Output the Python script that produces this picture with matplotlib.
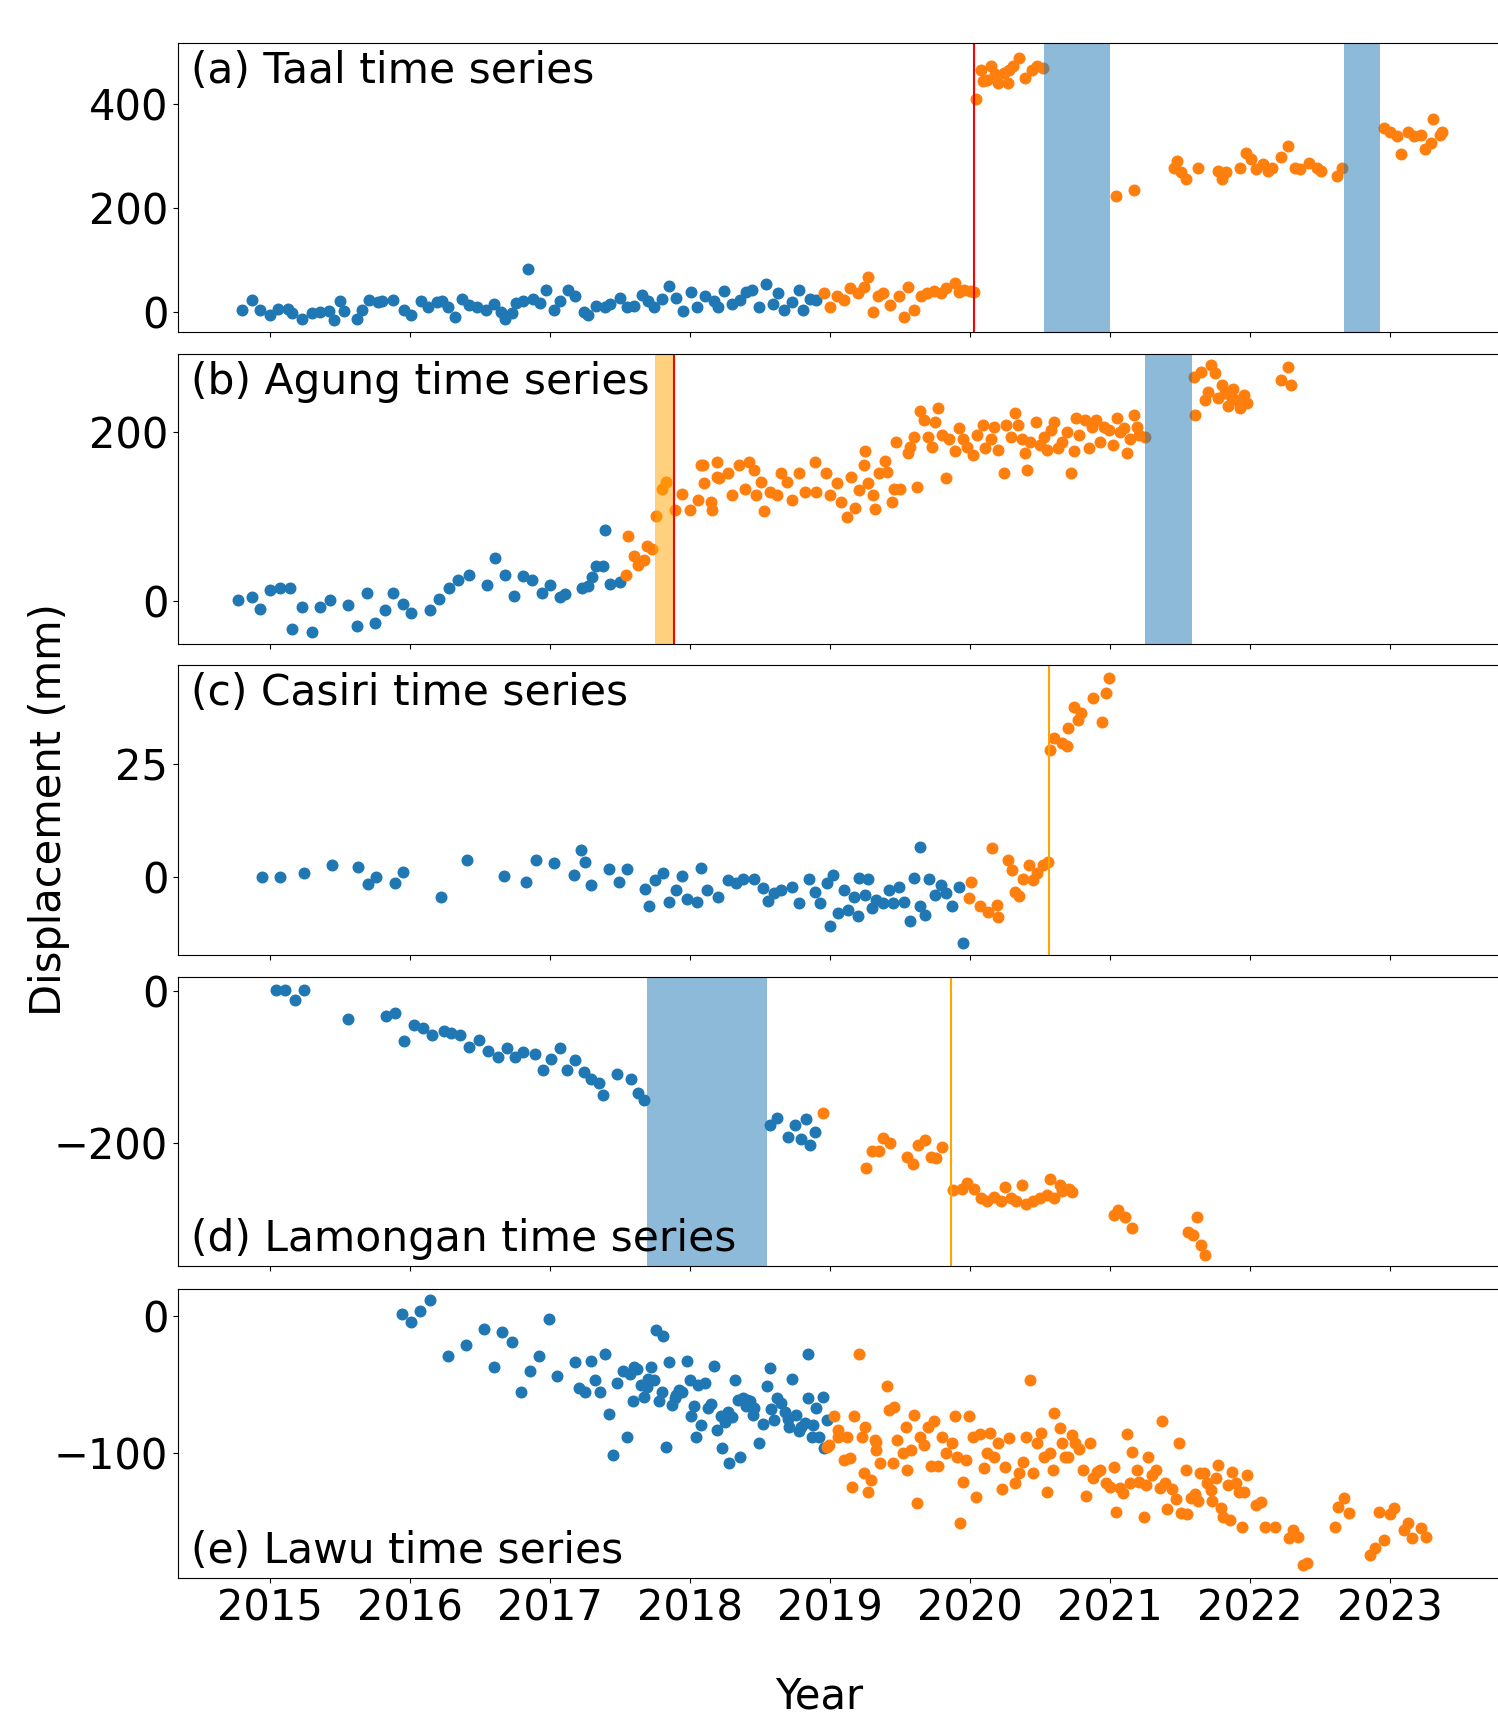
import matplotlib
matplotlib.use("Agg")
import matplotlib.pyplot as plt
import numpy as np

plt.rcParams['font.family'] = 'DejaVu Sans'
plt.rcParams['font.size'] = 30

# ---------------- data (decimal year, displacement mm) ----------------
# (a) Taal
taal_pre_t = [2014.80, 2014.87, 2014.93, 2015.00, 2015.06, 2015.13, 2015.16, 2015.23, 2015.30, 2015.36,
              2015.42, 2015.46, 2015.50, 2015.53, 2015.62, 2015.66, 2015.71, 2015.77, 2015.80, 2015.88,
              2015.96, 2016.01, 2016.08, 2016.13, 2016.19, 2016.23, 2016.27, 2016.32, 2016.37, 2016.42,
              2016.48, 2016.54, 2016.60, 2016.65, 2016.68, 2016.73, 2016.76, 2016.81, 2016.84, 2016.88,
              2016.93, 2016.97, 2017.03, 2017.07, 2017.13, 2017.18, 2017.24, 2017.27, 2017.33, 2017.39,
              2017.43, 2017.50, 2017.55, 2017.60, 2017.66, 2017.70, 2017.74, 2017.80, 2017.85, 2017.90,
              2017.95, 2018.01, 2018.05, 2018.11, 2018.17, 2018.20, 2018.24, 2018.30, 2018.36, 2018.40,
              2018.44, 2018.49, 2018.54, 2018.59, 2018.63, 2018.67, 2018.73, 2018.78, 2018.81, 2018.86,
              2018.90]
taal_pre_d = [4, 23, 5, -5, 7, 7, -1, -14, -2, 1,
              3, -16, 22, 2, -14, 4, 23, 20, 22, 24,
              4, -5, 22, 10, 20, 22, 10, -9, 26, 14,
              10, 4, 15, 1, -14, -2, 18, 22, 83, 26,
              17, 42, 4, 22, 42, 32, 1, -5, 12, 9,
              15, 28, 10, 12, 34, 22, 9, 26, 51, 28,
              3, 39, 10, 32, 22, 9, 41, 15, 23, 39,
              43, 9, 55, 15, 36, 4, 20, 42, 5, 26,
              23]
taal_post_t = [2018.96, 2019.00, 2019.05, 2019.10, 2019.14, 2019.20, 2019.24, 2019.27, 2019.31, 2019.34,
               2019.38, 2019.43, 2019.49, 2019.53, 2019.56, 2019.60, 2019.65, 2019.69, 2019.74, 2019.79,
               2019.83, 2019.89, 2019.92, 2019.96, 2020.00, 2020.03,
               2020.04, 2020.08, 2020.09, 2020.12, 2020.15, 2020.18, 2020.20, 2020.24, 2020.27, 2020.28,
               2020.31, 2020.35, 2020.39, 2020.44, 2020.48, 2020.52,
               2021.04, 2021.17, 2021.46, 2021.48, 2021.51, 2021.54, 2021.63, 2021.77, 2021.80, 2021.83,
               2021.93, 2021.97, 2022.01, 2022.04, 2022.09, 2022.13, 2022.16, 2022.22, 2022.27, 2022.32,
               2022.36, 2022.42, 2022.48, 2022.51, 2022.62, 2022.66,
               2022.96, 2023.00, 2023.05, 2023.08, 2023.13, 2023.17, 2023.22, 2023.25, 2023.29, 2023.31,
               2023.36, 2023.37]
taal_post_d = [37, 9, 32, 23, 47, 37, 48, 67, 1, 31,
               36, 14, 32, -10, 49, 4, 31, 37, 41, 36,
               47, 56, 39, 43, 41, 39,
               410, 467, 445, 448, 474, 458, 442, 461, 442, 467,
               474, 490, 451, 467, 474, 470,
               224, 235, 278, 291, 269, 256, 278, 272, 256, 270,
               278, 307, 294, 275, 285, 272, 278, 298, 320, 278,
               275, 288, 278, 272, 262, 278,
               355, 346, 339, 304, 346, 339, 342, 314, 326, 372,
               342, 347]

# (b) Agung
agung_pre_t = [2014.77, 2014.87, 2014.93, 2015.00, 2015.07, 2015.14, 2015.16, 2015.23, 2015.30, 2015.36,
               2015.43, 2015.56, 2015.62, 2015.69, 2015.75, 2015.82, 2015.88, 2015.95, 2016.01, 2016.14,
               2016.21, 2016.28, 2016.34, 2016.42, 2016.55, 2016.61, 2016.68, 2016.74, 2016.81, 2016.87,
               2016.94, 2017.00, 2017.07, 2017.11, 2017.23, 2017.27, 2017.30, 2017.33, 2017.38, 2017.39,
               2017.43, 2017.50]
agung_pre_d = [1, 5, -9, 13, 15, 16, -33, -7, -36, -7,
               1, -5, -29, 10, -26, -11, 10, -3, -14, -11,
               3, 16, 25, 31, 19, 51, 31, 6, 30, 25,
               10, 19, 5, 9, 16, 18, 28, 42, 42, 84,
               20, 23]
agung_post_t = [2017.54, 2017.56, 2017.60, 2017.63, 2017.67, 2017.69, 2017.73, 2017.76, 2017.80, 2017.83,
                2017.89, 2017.94, 2018.00, 2018.06, 2018.08, 2018.10, 2018.16, 2018.19,
                2018.09, 2018.15, 2018.19, 2018.21, 2018.27, 2018.30, 2018.35, 2018.39, 2018.42, 2018.46,
                2018.47, 2018.51, 2018.53, 2018.57, 2018.62, 2018.65, 2018.69, 2018.73, 2018.78, 2018.82,
                2018.89, 2018.90, 2018.97, 2019.00, 2019.05, 2019.08, 2019.12, 2019.15, 2019.18, 2019.21,
                2019.24, 2019.25, 2019.27, 2019.31, 2019.32, 2019.35, 2019.39, 2019.41, 2019.44, 2019.46,
                2019.50, 2019.47, 2019.56, 2019.57, 2019.60, 2019.62, 2019.64, 2019.67, 2019.70, 2019.73,
                2019.75, 2019.77, 2019.80, 2019.83, 2019.85, 2019.89, 2019.92, 2019.95, 2019.98, 2020.02,
                2020.05, 2020.09, 2020.11, 2020.15, 2020.17, 2020.20, 2020.24, 2020.26, 2020.29, 2020.32,
                2020.34, 2020.37, 2020.39, 2020.41, 2020.43, 2020.47, 2020.50, 2020.53, 2020.55, 2020.58,
                2020.60, 2020.63, 2020.66, 2020.69, 2020.72, 2020.74, 2020.76, 2020.78, 2020.82, 2020.85,
                2020.87, 2020.90, 2020.93, 2020.96, 2020.99, 2021.02, 2021.05, 2021.07, 2021.10, 2021.12,
                2021.14, 2021.17, 2021.19, 2021.21, 2021.25,
                2021.60, 2021.61, 2021.65, 2021.68, 2021.70, 2021.72, 2021.75, 2021.77, 2021.80, 2021.82,
                2021.84, 2021.87, 2021.88, 2021.91, 2021.93, 2021.96, 2021.98, 2022.22, 2022.27, 2022.29]
agung_post_d = [31, 77, 53, 43, 49, 65, 62, 100, 133, 141,
                108, 127, 108, 120, 161, 139, 108, 147,
                161, 117, 164, 146, 151, 125, 161, 133, 164, 155,
                125, 141, 106, 129, 125, 151, 141, 119, 151, 129,
                164, 129, 151, 125, 139, 117, 99, 147, 110, 131,
                161, 177, 139, 125, 109, 151, 165, 153, 117, 133,
                132, 188, 175, 182, 194, 135, 224, 214, 194, 182,
                212, 228, 196, 145, 192, 177, 204, 192, 182, 173,
                196, 208, 181, 192, 206, 179, 151, 208, 194, 222,
                208, 192, 175, 155, 188, 212, 184, 194, 179, 202,
                212, 181, 188, 200, 151, 177, 216, 196, 214, 181,
                206, 214, 188, 206, 202, 184, 216, 200, 204, 175,
                192, 220, 206, 196, 194,
                265, 220, 271, 238, 247, 279, 269, 240, 255, 246,
                230, 240, 251, 238, 228, 244, 234, 261, 276, 255]

# (c) Casiri
casiri_pre_t = [2014.94, 2015.07, 2015.24, 2015.44, 2015.63, 2015.70, 2015.76, 2015.89, 2015.95, 2016.22,
                2016.41, 2016.67, 2016.83, 2016.90, 2017.03, 2017.17, 2017.22, 2017.25, 2017.29, 2017.42,
                2017.49, 2017.55, 2017.68, 2017.71, 2017.75, 2017.81, 2017.85, 2017.90, 2017.94, 2017.98,
                2018.05, 2018.08, 2018.12, 2018.20, 2018.27, 2018.33, 2018.38, 2018.46, 2018.52, 2018.56,
                2018.60, 2018.65, 2018.73, 2018.78, 2018.85, 2018.89, 2018.93, 2018.98, 2019.00, 2019.02,
                2019.06, 2019.10, 2019.13, 2019.17, 2019.20, 2019.21, 2019.25, 2019.27, 2019.30, 2019.33,
                2019.38, 2019.42, 2019.45, 2019.49, 2019.53, 2019.57, 2019.60, 2019.64, 2019.64, 2019.68,
                2019.71, 2019.75, 2019.79, 2019.83, 2019.87, 2019.92, 2019.95]
casiri_pre_d = [0.0, 0.0, 1.0, 2.6, 2.3, -1.6, -0.1, -1.3, 1.2, -4.4,
                3.7, 0.2, -1.0, 3.7, 3.2, 0.4, 5.9, 3.4, -1.8, 1.7,
                -1.0, 1.7, -2.7, -6.3, -0.7, 0.9, -5.4, -2.9, 0.3, -4.9,
                -5.4, 1.9, -2.9, -4.3, -0.7, -1.4, -0.5, -0.5, -2.5, -5.2,
                -3.6, -2.9, -2.1, -5.7, -0.5, -3.2, -5.7, -1.4, -10.7, 0.4,
                -8.0, -2.9, -7.3, -4.5, -8.6, -0.3, -4.0, -0.5, -6.9, -5.1,
                -5.8, -2.9, -5.8, -2.1, -5.4, -9.6, -0.3, 6.7, -6.5, -8.4,
                -0.5, -4.0, -1.8, -3.6, -6.5, -2.1, -14.5]
casiri_post_t = [2019.99, 2020.01, 2020.07, 2020.13, 2020.16, 2020.19, 2020.20, 2020.27, 2020.30, 2020.32,
                 2020.35, 2020.38, 2020.42, 2020.45, 2020.48, 2020.52, 2020.56,
                 2020.57, 2020.60, 2020.66, 2020.69, 2020.70, 2020.74, 2020.77, 2020.79, 2020.88, 2020.94,
                 2020.97, 2020.99]
casiri_post_d = [-4.7, -1.0, -6.4, -7.7, 6.3, -6.2, -8.8, 3.8, 1.5, -3.2,
                 -4.2, -0.5, 2.7, -0.7, 0.9, 2.7, 3.4,
                 28.0, 30.6, 29.5, 28.8, 32.8, 37.6, 34.7, 36.1, 39.4, 34.3,
                 40.5, 43.9]

# (d) Lamongan
lamongan_pre_t = [2015.04, 2015.11, 2015.18, 2015.24, 2015.56, 2015.83, 2015.89, 2015.96, 2016.03, 2016.09,
                  2016.16, 2016.24, 2016.29, 2016.36, 2016.42, 2016.49, 2016.56, 2016.63, 2016.69, 2016.75,
                  2016.81, 2016.89, 2016.95, 2017.01, 2017.07, 2017.12, 2017.18, 2017.24, 2017.29, 2017.35,
                  2017.38, 2017.48, 2017.58, 2017.63, 2017.67,
                  2018.57, 2018.62, 2018.70, 2018.75, 2018.79, 2018.83, 2018.86, 2018.89]
lamongan_pre_d = [2, 2, -11, 2, -36, -33, -29, -66, -44, -49,
                  -57, -52, -55, -57, -74, -64, -79, -87, -75, -87,
                  -80, -83, -104, -89, -75, -104, -91, -107, -115, -121,
                  -137, -109, -116, -134, -143,
                  -176, -167, -192, -176, -194, -168, -203, -185]
lamongan_post_t = [2018.95, 2019.26, 2019.30, 2019.35, 2019.38, 2019.43, 2019.55, 2019.59, 2019.63, 2019.68,
                   2019.72, 2019.76, 2019.80,
                   2019.88, 2019.94, 2019.98, 2020.03, 2020.08, 2020.12, 2020.17, 2020.22, 2020.25, 2020.29,
                   2020.33, 2020.37, 2020.40, 2020.45, 2020.50, 2020.55, 2020.57, 2020.60, 2020.64, 2020.66,
                   2020.71, 2020.73,
                   2021.03, 2021.06, 2021.11, 2021.16, 2021.56, 2021.59, 2021.62, 2021.65, 2021.68]
lamongan_post_d = [-161, -233, -211, -210, -193, -200, -218, -227, -203, -196,
                   -218, -220, -205,
                   -262, -260, -253, -260, -273, -277, -271, -277, -258, -273,
                   -277, -255, -280, -277, -272, -269, -247, -272, -255, -263,
                   -260, -265,
                   -295, -288, -298, -312, -317, -321, -298, -334, -347]

# (e) Lawu
lawu_pre_t = [2015.94, 2016.01, 2016.07, 2016.14, 2016.27, 2016.40, 2016.53, 2016.60, 2016.66, 2016.73,
              2016.79, 2016.86, 2016.92, 2016.99, 2017.05, 2017.18, 2017.21, 2017.25, 2017.29, 2017.32,
              2017.36, 2017.39, 2017.42, 2017.45, 2017.48, 2017.52, 2017.55, 2017.59, 2017.60, 2017.62,
              2017.65, 2017.67, 2017.70, 2017.72, 2017.74, 2017.76, 2017.78, 2017.80, 2017.81, 2017.83,
              2017.85, 2017.87, 2017.89, 2017.92, 2017.94, 2017.98, 2018.00, 2018.01, 2018.04, 2018.06,
              2018.08, 2018.11, 2018.13, 2018.17, 2018.19, 2018.22, 2018.23, 2018.25, 2018.28, 2018.30,
              2018.32, 2018.34, 2018.36, 2018.38, 2018.41, 2018.43, 2018.46, 2018.49, 2018.52, 2018.55,
              2018.57, 2018.60, 2018.62, 2018.65, 2018.68, 2018.71, 2018.73, 2018.76, 2018.79, 2018.82,
              2018.84, 2018.84, 2018.87, 2018.90, 2018.92, 2018.95, 2018.96, 2018.98,
              2017.57, 2017.69, 2017.90, 2018.03, 2018.15, 2018.27, 2018.40, 2018.45, 2018.58, 2018.70,
              2018.78, 2018.88]
lawu_pre_d = [1.6, -4.2, 4.1, 11.7, -29.4, -21.3, -9.4, -36.8, -11.1, -18.9,
              -55.8, -40.4, -29.4, -2.0, -43.4, -33.8, -52.2, -55.1, -32.4, -46.5,
              -55.1, -27.5, -71.7, -101.6, -49.0, -40.4, -88.1, -62.4, -37.2, -38.7,
              -50.2, -58.8, -46.1, -36.8, -46.5, -9.9, -62.4, -55.1, -14.3, -96.0,
              -33.1, -64.9, -60.0, -53.9, -55.1, -32.4, -46.5, -73.0, -88.1, -50.2,
              -79.6, -49.0, -67.3, -36.3, -83.2, -73.4, -96.2, -77.1, -107.7, -73.9,
              -47.0, -61.2, -103.3, -60.0, -61.2, -62.4, -67.3, -92.5, -78.8, -51.4,
              -38.0, -75.9, -60.0, -63.7, -69.8, -81.3, -46.1, -72.2, -81.3, -78.3,
              -60.0, -27.5, -88.1, -67.3, -88.1, -58.8, -96.7, -75.9,
              -42.0, -52.0, -58.0, -66.0, -64.0, -70.0, -66.0, -72.0, -68.0, -75.0,
              -84.0, -80.0]
lawu_post_t = [2018.99, 2018.98, 2019.03, 2019.06, 2019.06, 2019.10, 2019.12, 2019.14, 2019.16, 2019.17,
               2019.21, 2019.23, 2019.24, 2019.25, 2019.27, 2019.29, 2019.32, 2019.33, 2019.33, 2019.36,
               2019.41, 2019.42, 2019.45, 2019.46, 2019.48, 2019.52, 2019.54, 2019.55, 2019.58, 2019.60,
               2019.62, 2019.64, 2019.67, 2019.70, 2019.72, 2019.74, 2019.77, 2019.80, 2019.83, 2019.87,
               2019.89, 2019.91, 2019.93, 2019.95, 2019.97, 2019.99, 2020.02, 2020.04, 2020.07, 2020.10,
               2020.12, 2020.14, 2020.17, 2020.20, 2020.23, 2020.25, 2020.28, 2020.32, 2020.35, 2020.38,
               2020.40, 2020.43, 2020.45, 2020.48, 2020.51, 2020.53, 2020.55, 2020.57, 2020.59, 2020.60,
               2020.64, 2020.66, 2020.68, 2020.70, 2020.73, 2020.75, 2020.78, 2020.81, 2020.83, 2020.86,
               2020.88, 2020.91, 2020.93, 2020.97, 2021.00, 2021.03, 2021.04, 2021.07, 2021.09, 2021.12,
               2021.14, 2021.16, 2021.19, 2021.21, 2021.24, 2021.26, 2021.27, 2021.30, 2021.33, 2021.36,
               2021.37, 2021.39, 2021.41, 2021.44, 2021.47, 2021.49, 2021.51, 2021.54, 2021.55, 2021.58,
               2021.61, 2021.63, 2021.64, 2021.67, 2021.69, 2021.72, 2021.73, 2021.76, 2021.77, 2021.79,
               2021.81, 2021.84, 2021.86, 2021.87, 2021.90, 2021.92, 2021.94, 2021.96, 2021.98, 2022.04,
               2022.08, 2022.11, 2022.18, 2022.28, 2022.31, 2022.34, 2022.38, 2022.41, 2022.61, 2022.63,
               2022.67, 2022.71, 2022.86, 2022.89, 2022.92, 2022.96, 2023.00, 2023.03, 2023.10, 2023.13,
               2023.16, 2023.22, 2023.26]
lawu_post_d = [-94.2, -95.5, -73.4, -88.1, -83.2, -105.2, -88.1, -104.0, -124.8, -73.0,
               -27.5, -88.1, -115.0, -80.8, -128.5, -119.9, -90.6, -91.8, -97.9, -107.7,
               -50.7, -69.0, -107.2, -66.6, -90.6, -100.4, -81.3, -112.6, -97.9, -72.2,
               -136.6, -88.1, -94.2, -80.8, -109.6, -76.4, -109.6, -88.1, -100.4, -93.0,
               -73.0, -102.8, -151.2, -121.1, -105.2, -73.0, -88.6, -132.2, -86.2, -111.4,
               -100.4, -85.2, -102.8, -93.0, -126.8, -110.1, -89.3, -121.9, -115.0, -106.5,
               -88.1, -47.0, -114.5, -93.0, -85.2, -102.8, -128.5, -99.9, -112.6, -71.0,
               -82.0, -92.5, -102.8, -102.8, -86.9, -92.5, -97.4, -112.6, -131.7, -93.0,
               -118.7, -113.8, -112.6, -122.4, -124.8, -110.1, -143.2, -126.0, -129.7, -86.2,
               -121.9, -99.1, -112.6, -121.1, -146.8, -123.6, -103.3, -116.3, -112.6, -126.0,
               -76.4, -121.9, -141.4, -126.8, -134.1, -92.5, -143.9, -112.6, -144.9, -133.4,
               -130.2, -135.1, -114.5, -114.5, -122.4, -127.3, -135.1, -118.7, -108.9, -140.7,
               -146.8, -123.6, -149.3, -113.8, -121.9, -128.5, -154.2, -128.5, -116.3, -138.3,
               -135.8, -154.2, -154.2, -162.7, -156.6, -161.5, -182.3, -181.1, -154.2, -139.5,
               -133.4, -143.9, -175.0, -170.1, -143.2, -164.0, -144.9, -140.7, -156.6, -151.7,
               -162.7, -155.4, -162.0]

# event markers
taal_eruption = 2020.03
taal_gaps = [(2020.526, 2020.998), (2022.672, 2022.932)]
agung_unrest = (2017.749, 2017.889)
agung_eruption = 2017.889
agung_gap = (2021.253, 2021.588)
casiri_event = 2020.567
lamongan_gap = (2017.690, 2018.549)
lamongan_event = 2019.867

panel_labels = ["(a) Taal time series", "(b) Agung time series", "(c) Casiri time series",
                "(d) Lamongan time series", "(e) Lawu time series"]
year_ticks = list(range(2015, 2024))

# ---------------- figure ----------------
fig = plt.figure(figsize=(14.98, 17.23), dpi=100)
W, H = 1498, 1723
left = 178 / W
width = (2023.83 - 2014.343) * 140 / W
tops = [42.9, 353.9, 664.9, 977.0, 1289.1]
bots = [331.9, 644.0, 955.0, 1266.0, 1578.2]
ylims = [(-38, 518.5), (-50.6, 292), (-17.2, 46.8), (-362, 18.8), (-192, 20)]

axes = []
for i in range(5):
    ax = fig.add_axes([left, 1 - bots[i] / H, width, (bots[i] - tops[i]) / H])
    axes.append(ax)

series = [
    (taal_pre_t, taal_pre_d, taal_post_t, taal_post_d),
    (agung_pre_t, agung_pre_d, agung_post_t, agung_post_d),
    (casiri_pre_t, casiri_pre_d, casiri_post_t, casiri_post_d),
    (lamongan_pre_t, lamongan_pre_d, lamongan_post_t, lamongan_post_d),
    (lawu_pre_t, lawu_pre_d, lawu_post_t, lawu_post_d),
]

ms = 58
for i, ax in enumerate(axes):
    t0, d0, t1, d1 = series[i]
    ax.scatter(t0, d0, s=ms, color='tab:blue')
    ax.scatter(t1, d1, s=ms, color='tab:orange')

# spans / lines (drawn over the dots like the original)
ax = axes[0]
ax.axvline(taal_eruption, color='red', lw=1.5)
for a, b in taal_gaps:
    ax.axvspan(a, b, color='tab:blue', alpha=0.5, lw=0)
ax.set_yticks([0, 200, 400])

ax = axes[1]
ax.axvspan(*agung_unrest, color='orange', alpha=0.5, lw=0)
ax.axvline(agung_eruption, color='red', lw=1.5)
ax.axvspan(*agung_gap, color='tab:blue', alpha=0.5, lw=0)
ax.set_yticks([0, 200])

ax = axes[2]
ax.axvline(casiri_event, color='orange', lw=1.5)
ax.set_yticks([0, 25])

ax = axes[3]
ax.axvspan(*lamongan_gap, color='tab:blue', alpha=0.5, lw=0)
ax.axvline(lamongan_event, color='orange', lw=1.5)
ax.set_yticks([-200, 0])

axes[4].set_yticks([-100, 0])

for i, ax in enumerate(axes):
    ax.set_xlim(2014.343, 2023.83)
    ax.set_ylim(*ylims[i])
    ax.set_xticks(year_ticks)
    if i < 4:
        ax.set_xticklabels([])
    else:
        ax.set_xticklabels([str(y) for y in year_ticks])
    ax.tick_params(labelsize=30)
    if i in (3, 4):
        ax.text(0.0098, 0.02, panel_labels[i], transform=ax.transAxes,
                ha='left', va='bottom', fontsize=30.5)
    else:
        ax.text(0.0098, 0.975, panel_labels[i], transform=ax.transAxes,
                ha='left', va='top', fontsize=30.5)

fig.text(0.033, 1 - 810 / H, 'Displacement (mm)', rotation=90, ha='center', va='center', fontsize=30)
fig.text(819 / W, 0.003, 'Year', ha='center', va='bottom', fontsize=30)

fig.savefig('out.png', dpi=100)
